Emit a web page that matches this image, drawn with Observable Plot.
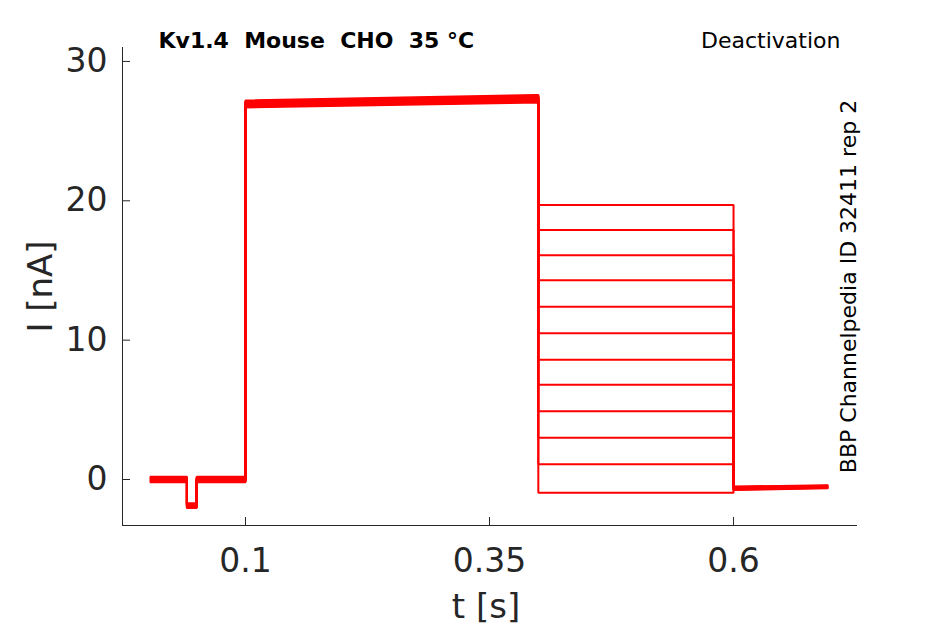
<!DOCTYPE html>
<html>
<head>
<meta charset="utf-8">
<script src="https://cdn.jsdelivr.net/npm/d3@7"></script>
<script src="https://cdn.jsdelivr.net/npm/@observablehq/plot@0.6"></script>
<style>
  html, body { margin: 0; padding: 0; background: #fff; }
  #chart { width: 945px; height: 624px; }
</style>
</head>
<body>
<div id="chart"></div>
<script>
// ---- data ----
const title = "Kv1.4  Mouse  CHO  35 °C";
const protocolName = "Deactivation";
const sideNote = "BBP Channelpedia ID 32411 rep 2";
const xLabel = "t [s]";
const yLabel = "I [nA]";

const xTicks = [0.1, 0.35, 0.6];
const yTicks = [0, 10, 20, 30];
const xDomain = [-0.026, 0.727];
const yDomain = [-3.3, 31.0];

// protocol epoch times (s)
const tStart = 0.002, tDipOn = 0.04, tDipOff = 0.05, tStep = 0.1, tTail = 0.4, tEnd1 = 0.6, tEnd = 0.697;

// per-sweep current values (nA), 12 sweeps
const baseline   = [0.15, -0.10, 0.05, -0.20, 0.20, 0.00, -0.05, 0.10, -0.15, 0.12, -0.08, 0.02];
const dipLevel   = [-1.80, -2.00, -1.90, -1.70, -2.05, -1.85, -1.95, -1.75, -2.00, -1.80, -1.90, -1.85];
const peakStart  = [27.20, 26.80, 27.00, 26.70, 27.10, 26.90, 27.15, 26.75, 27.05, 26.85, 27.00, 26.95];
const peakEnd    = [27.60, 27.10, 27.40, 27.05, 27.55, 27.25, 27.50, 27.10, 27.45, 27.20, 27.35, 27.30];
const tailLevel  = [19.7, 17.9, 16.1, 14.3, 12.4, 10.5, 8.6, 6.8, 4.9, 3.0, 1.1, -0.95];
const endStart   = [-0.55, -0.70, -0.60, -0.75, -0.50, -0.65, -0.58, -0.72, -0.62, -0.68, -0.55, -0.66];
const endFinish  = [-0.45, -0.60, -0.50, -0.62, -0.42, -0.55, -0.48, -0.60, -0.52, -0.58, -0.47, -0.55];

// build sweep polylines from the arrays above
const rows = [];
tailLevel.forEach((lvl, i) => {
  const pts = [
    [tStart, baseline[i]], [tDipOn, baseline[i]], [tDipOn, dipLevel[i]], [tDipOff, dipLevel[i]],
    [tDipOff, baseline[i]], [tStep, baseline[i]], [tStep, peakStart[i]], [tTail, peakEnd[i]],
    [tTail, lvl], [tEnd1, lvl], [tEnd1, endStart[i]], [tEnd, endFinish[i]]
  ];
  pts.forEach(([t, v]) => rows.push({sweep: i, t, v}));
});

const ink = "#262626";
const font = "DejaVu Sans";

const chart = Plot.plot({
  width: 945,
  height: 624,
  marginLeft: 122,
  marginRight: 88,
  marginTop: 47,
  marginBottom: 99,
  style: {fontFamily: font, color: ink, background: "#fff", overflow: "visible"},
  x: {domain: xDomain},
  y: {domain: yDomain},
  marks: [
    Plot.line(rows, {x: "t", y: "v", z: "sweep", stroke: "#ff0000", strokeWidth: 2, strokeLinecap: "butt", strokeLinejoin: "miter", curve: "linear"}),
    Plot.ruleX([xDomain[0]], {stroke: ink, strokeWidth: 1}),
    Plot.ruleY([yDomain[0]], {stroke: ink, strokeWidth: 1}),
    Plot.axisY(yTicks, {anchor: "left", tickSize: -8, tickPadding: 23, fontSize: 33, label: null, stroke: ink, fill: ink}),
    Plot.axisX(xTicks, {anchor: "bottom", tickSize: -8, tickPadding: 31, fontSize: 33, label: null, tickFormat: d => String(d), stroke: ink, fill: ink}),
    Plot.text([yLabel], {frameAnchor: "left", rotate: -90, textAnchor: "middle", lineAnchor: "bottom", dx: -71, fontSize: 34, fill: ink}),
    Plot.text([xLabel], {frameAnchor: "bottom", textAnchor: "middle", lineAnchor: "bottom", dx: -4, dy: 92, fontSize: 34, fill: ink}),
    Plot.text([title], {frameAnchor: "top-left", textAnchor: "start", lineAnchor: "bottom", dx: 36, dy: 0, fontSize: 22, fontWeight: "bold", fill: "#000"}),
    Plot.text([protocolName], {frameAnchor: "top-right", textAnchor: "end", lineAnchor: "bottom", dx: -17, dy: 0, fontSize: 22, fill: "#000"}),
    Plot.text([sideNote], {frameAnchor: "right", rotate: -90, textAnchor: "middle", lineAnchor: "bottom", dx: -2, dy: 0, fontSize: 22, fill: "#000"})
  ]
});
document.getElementById("chart").appendChild(chart);
</script>
</body>
</html>
